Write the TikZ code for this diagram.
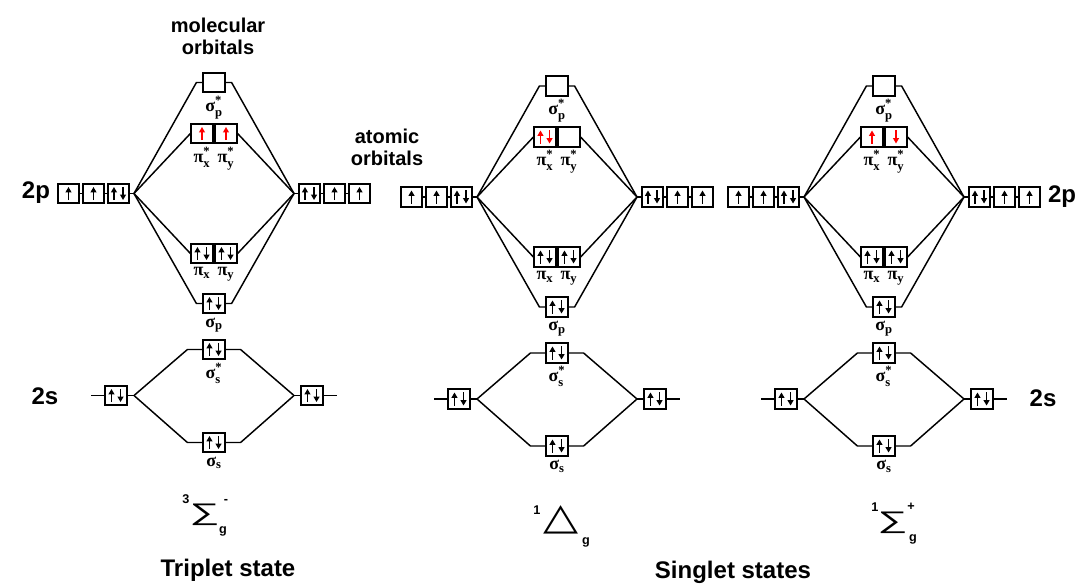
\documentclass[tikz,border=0pt]{standalone}
\usepackage{fontspec}
\setmainfont{Liberation Sans}
\newfontfamily\serifbf{Liberation Serif}
\newfontfamily\dejavu{DejaVu Sans}
\usepackage{amsmath}
\usepackage{graphicx}
\usetikzlibrary{arrows.meta}

\newcommand\mol[3]{{\serifbf\bfseries #1}$^{\text{\serifbf\bfseries #3}}_{\text{\serifbf\bfseries #2}}$}
\newcommand\molb[2]{{\serifbf\bfseries #1}$_{\text{\serifbf\bfseries #2}}$}

\newcommand\spinU[2][spin]{\draw[#1] ([yshift=-4.9pt]#2.center) -- ([yshift=4.9pt]#2.center);}
\newcommand\spinD[2][spin]{\draw[#1] ([yshift=4.9pt]#2.center) -- ([yshift=-4.9pt]#2.center);}
\newcommand\spinP[2][spin]{\draw[#1] ([xshift=-3.4pt,yshift=-4.9pt]#2.center) -- ([xshift=-3.4pt,yshift=4.9pt]#2.center);
  \draw[#1] ([xshift=3.4pt,yshift=4.9pt]#2.center) -- ([xshift=3.4pt,yshift=-4.9pt]#2.center);}

\tikzset{
  orb/.style={draw, line width=1.3pt, minimum width=16.1pt, minimum height=14.6pt, inner sep=0pt},
  wire/.style={line width=1.1pt},
  spin/.style={line width=1pt, -{Triangle[length=4pt,width=4.3pt]}},
  redspin/.style={spin, red},
  big/.style={font=\fontsize{18}{20}\selectfont\bfseries},
  head/.style={font=\fontsize{15}{16.5}\selectfont\bfseries, align=center},
  lab/.style={font=\fontsize{13.5}{14}\selectfont, anchor=north, inner sep=0pt},
  small/.style={font=\fontsize{9.5}{10}\selectfont\bfseries, inner sep=0pt},
  sym/.style={font=\fontsize{18}{20}\selectfont, inner sep=0pt}
}

% #1 prefix, #2 centre x, #3 vertical offset, #4 pi* electrons
\newcommand\mopanel[4]{%
\begin{scope}[shift={(0,#3)}]
  % 2p atomic orbitals
  \coordinate (#1cL) at ({#2-80},197);
  \coordinate (#1cR) at ({#2+80},197);
  \node[orb] (#1L1) at ({#2-145.5},197) {};
  \node[orb] (#1L2) at ({#2-120.5},197) {};
  \node[orb] (#1L3) at ({#2-95.5},197) {};
  \node[orb] (#1R1) at ({#2+95.5},197) {};
  \node[orb] (#1R2) at ({#2+120.5},197) {};
  \node[orb] (#1R3) at ({#2+145.5},197) {};
  \draw[wire] (#1L1) -- (#1L2) -- (#1L3) -- (#1cL);
  \draw[wire] (#1cR) -- (#1R1) -- (#1R2) -- (#1R3);
  \spinU{#1L1}\spinU{#1L2}\spinP{#1L3}
  \spinP{#1R1}\spinU{#1R2}\spinU{#1R3}
  % 2p molecular orbitals
  \node[orb] (#1sps) at (#2,86) {};
  \node[orb] (#1pxs) at ({#2-12},137) {};
  \node[orb] (#1pys) at ({#2+12},137) {};
  \node[orb] (#1px) at ({#2-12},257) {};
  \node[orb] (#1py) at ({#2+12},257) {};
  \node[orb] (#1sp) at (#2,307) {};
  \draw[wire] (#1cL) -- ([xshift=-4.5pt]#1sps.west) -- (#1sps.west);
  \draw[wire] (#1sps.east) -- ([xshift=4.5pt]#1sps.east) -- (#1cR);
  \draw[wire] (#1cL) -- (#1pxs.west);
  \draw[wire] (#1pxs) -- (#1pys);
  \draw[wire] (#1pys.east) -- (#1cR);
  \draw[wire] (#1cL) -- (#1px.west);
  \draw[wire] (#1px) -- (#1py);
  \draw[wire] (#1py.east) -- (#1cR);
  \draw[wire] (#1cL) -- ([xshift=-4.5pt]#1sp.west) -- (#1sp.west);
  \draw[wire] (#1sp.east) -- ([xshift=4.5pt]#1sp.east) -- (#1cR);
  #4
  \spinP{#1px}\spinP{#1py}\spinP{#1sp}
  \node[lab] (#1spsl) at ([yshift=-2pt]#1sps.south) {\mol{σ}{p}{*}};
  \node[lab] (#1pxsl) at ([yshift=-2pt]#1pxs.south) {\mol{π}{x}{*}};
  \node[lab] (#1pysl) at ([yshift=-2pt]#1pys.south) {\mol{π}{y}{*}};
  \node[lab] (#1pxl) at ([yshift=-2.5pt]#1px.south) {\molb{π}{x}};
  \node[lab] (#1pyl) at ([yshift=-2.5pt]#1py.south) {\molb{π}{y}};
  \node[lab] (#1spl) at ([yshift=-2.5pt]#1sp.south) {\molb{σ}{p}};
  % 2s
  \coordinate (#1dL) at ({#2-80},399);
  \coordinate (#1dR) at ({#2+80},399);
  \node[orb] (#1sL) at ({#2-98},399) {};
  \node[orb] (#1sR) at ({#2+98},399) {};
  \node[orb] (#1sss) at (#2,353) {};
  \node[orb] (#1ss) at (#2,446) {};
  \draw[wire] ([xshift=-10pt]#1sL.west) -- (#1sL.west);
  \draw[wire] (#1sL.east) -- (#1dL);
  \draw[wire] (#1dR) -- (#1sR.west);
  \draw[wire] (#1sR.east) -- ([xshift=10pt]#1sR.east);
  \draw[wire] (#1dL) -- ([xshift=-11.25pt]#1sss.west) -- (#1sss.west);
  \draw[wire] (#1sss.east) -- ([xshift=11.25pt]#1sss.east) -- (#1dR);
  \draw[wire] (#1dL) -- ([xshift=-11.25pt]#1ss.west) -- (#1ss.west);
  \draw[wire] (#1ss.east) -- ([xshift=11.25pt]#1ss.east) -- (#1dR);
  \spinP{#1sL}\spinP{#1sR}\spinP{#1sss}\spinP{#1ss}
  \node[lab] (#1sssl) at ([yshift=-2pt]#1sss.south) {\mol{σ}{s}{*}};
  \node[lab] (#1ssl) at ([yshift=-2.5pt]#1ss.south) {\molb{σ}{s}};
\end{scope}}

\begin{document}
\begin{tikzpicture}[x=0.75pt,y=-0.75pt]
\useasboundingbox (0,0) rectangle (1084,583);
\mopanel{a}{214}{-3.5}{\spinU[redspin]{apxs}\spinU[redspin]{apys}}
\mopanel{b}{557}{0}{\spinP[redspin]{bpxs}}
\mopanel{c}{884}{0}{\spinU[redspin]{cpxs}\spinD[redspin]{cpys}}

\node[big] (t2pL) at (36,193) {2p};
\node[big] (t2pR) at (1062,197) {2p};
\node[big] (t2sL) at (45,396) {2s};
\node[big] (t2sR) at (1043,398) {2s};
\node[head] (hmo) at (218,36) {molecular\\orbitals};
\node[head] (hao) at (387,147) {atomic\\orbitals};
\node[big] (ttrip) at (228,570) {Triplet state};
\node[big] (tsing) at (733,572) {Singlet states};

% term symbols
\node[sym] (Sa) at (204.5,514.5) {\scalebox{1.75}[1]{∑}};
\node[small] (Sa3) at (186,499) {3};
\node[small] (Sam) at (226,501) {-};
\node[small] (Sag) at (223,531) {g};
\node[sym] (Db) at (561,520) {\dejavu\scalebox{1.9}[1.55]{△}};
\node[small] (Db1) at (537,510) {1};
\node[small] (Dbg) at (586,542) {g};
\node[sym] (Sc) at (892.5,523) {\scalebox{1.75}[1]{∑}};
\node[small] (Sc1) at (875,507) {1};
\node[small] (Scp) at (911,507) {+};
\node[small] (Scg) at (913,539) {g};
\end{tikzpicture}
\end{document}
